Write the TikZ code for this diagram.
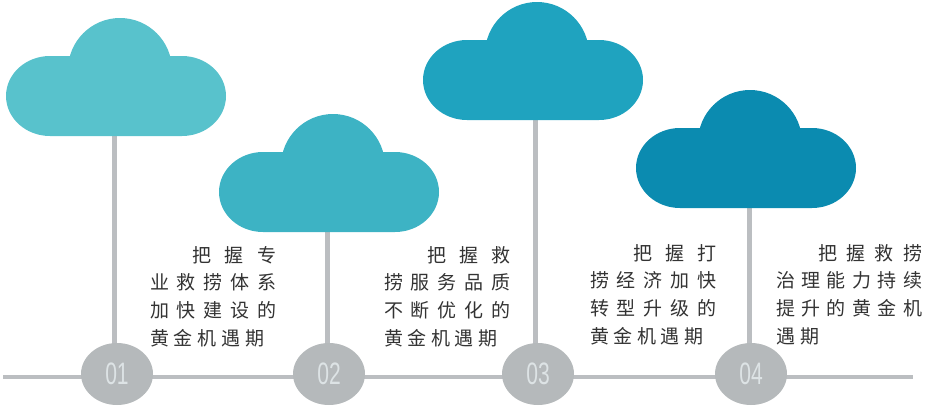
\documentclass[tikz,border=0pt]{standalone}
\usepackage{fontspec}
\usetikzlibrary{shapes.geometric,backgrounds}
\newfontfamily\cjkface{Noto Sans CJK SC}
\setsansfont{Liberation Sans}
\definecolor{lineGray}{HTML}{BBBEC1}
\definecolor{dotGray}{HTML}{B5B9BB}
\definecolor{digitGray}{HTML}{DDE3E5}
\definecolor{inkGray}{HTML}{333333}
\definecolor{cloudA}{HTML}{58C2CC}
\definecolor{cloudB}{HTML}{3DB3C4}
\definecolor{cloudC}{HTML}{1FA3BF}
\definecolor{cloudD}{HTML}{0B8BB0}
% one text line: left offset, total width, spread characters
\newcommand{\spreadline}[3]{\hspace*{#1pt}\makebox[#2pt][s]{#3}}
\newcommand{\gp}{\hfill}
\tikzset{
  cloudpic/.pic={
    \fill[pic actions] (44,38) -- (176,38)
      .. controls (200.3,38) and (220,55.9) .. (220,78)
      .. controls (220,100.1) and (200.3,118) .. (176,118)
      -- (44,118)
      .. controls (19.7,118) and (0,100.1) .. (0,78)
      .. controls (0,55.9) and (19.7,38) .. (44,38) -- cycle;
    \fill[pic actions] (114,52) circle[radius=52pt];
  },
  stem/.style={draw=lineGray,line width=5pt},
  axisline/.style={draw=lineGray,line width=3.5pt},
  dot/.style={ellipse,fill=dotGray,minimum width=72pt,minimum height=62pt,inner sep=0pt,
    text=digitGray,font=\sffamily\fontsize{31}{31}\selectfont},
  note/.style={anchor=north west,inner sep=0pt,align=left,text=inkGray,
    font=\cjkface\fontsize{19}{27.7}\selectfont},
}
\newcommand{\narrow}[1]{\scalebox{0.68}[1]{#1}}
\begin{document}
\begin{tikzpicture}[x=1pt,y=-1pt]
\useasboundingbox (0,0) rectangle (931,408);
\coordinate (tl) at (3,377);
\coordinate (tr) at (913,377);
\coordinate (s1) at (114,135);
\coordinate (s2) at (327,231);
\coordinate (s3) at (535,119);
\coordinate (s4) at (749,207);
\pic[fill=cloudA] at (6,18) {cloudpic};
\pic[fill=cloudB] at (219,114) {cloudpic};
\pic[fill=cloudC] at (423,2) {cloudpic};
\pic[fill=cloudD] at (636,90) {cloudpic};
\node[dot] (n1) at (117,374) {\narrow{01}};
\node[dot] (n2) at (329,374) {\narrow{02}};
\node[dot] (n3) at (538,374) {\narrow{03}};
\node[dot] (n4) at (751,374) {\narrow{04}};
\begin{pgfonlayer}{background}
\draw[axisline] (tl) -- (tr);
\draw[stem] (s1) -- (s1 |- n1.center);
\draw[stem] (s2) -- (s2 |- n2.center);
\draw[stem] (s3) -- (s3 |- n3.center);
\draw[stem] (s4) -- (s4 |- n4.center);
\end{pgfonlayer}
\node[note] (t1) at (150,246) {%
\spreadline{42}{84}{把\gp 握\gp 专}\\
\spreadline{0}{126}{业\gp 救\gp 捞\gp 体\gp 系}\\
\spreadline{0}{126}{加\gp 快\gp 建\gp 设\gp 的}\\
\spreadline{0}{114}{黄\gp 金\gp 机\gp 遇\gp 期}};
\node[note] (t2) at (384,246) {%
\spreadline{43}{83}{把\gp 握\gp 救}\\
\spreadline{0}{126}{捞\gp 服\gp 务\gp 品\gp 质}\\
\spreadline{0}{126}{不\gp 断\gp 优\gp 化\gp 的}\\
\spreadline{0}{113}{黄\gp 金\gp 机\gp 遇\gp 期}};
\node[note] (t3) at (590,244) {%
\spreadline{43}{83}{把\gp 握\gp 打}\\
\spreadline{0}{126}{捞\gp 经\gp 济\gp 加\gp 快}\\
\spreadline{0}{126}{转\gp 型\gp 升\gp 级\gp 的}\\
\spreadline{0}{113}{黄\gp 金\gp 机\gp 遇\gp 期}};
\node[note] (t4) at (776,244) {%
\spreadline{42}{104}{把\gp 握\gp 救\gp 捞}\\
\spreadline{0}{146}{治\gp 理\gp 能\gp 力\gp 持\gp 续}\\
\spreadline{0}{146}{提\gp 升\gp 的\gp 黄\gp 金\gp 机}\\
\spreadline{0}{43}{遇\gp 期}};
\end{tikzpicture}
\end{document}
